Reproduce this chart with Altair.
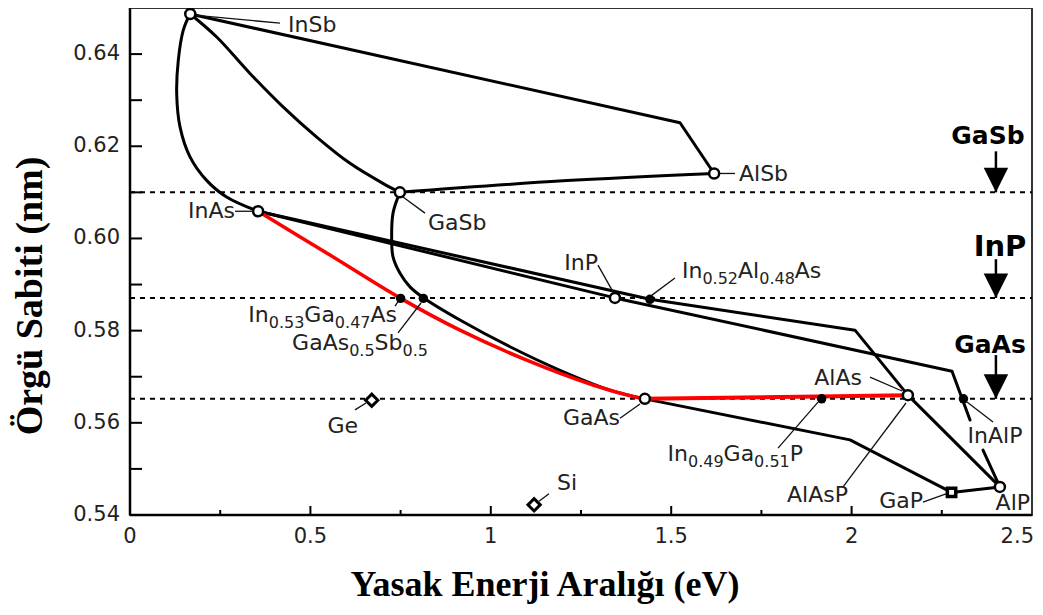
import altair as alt
import pandas as pd

# ---------------- values ----------------
# binary compounds drawn as open circles: band gap (eV), lattice constant (nm)
open_names = ["InSb", "InAs", "GaSb", "AlSb", "InP", "GaAs", "AlAs", "AlP"]
open_eg = [0.167, 0.355, 0.748, 1.619, 1.344, 1.427, 2.156, 2.411]
open_a = [0.6487, 0.6059, 0.6100, 0.6141, 0.5871, 0.5652, 0.5660, 0.5461]

square_names = ["GaP"]
square_eg = [2.277]
square_a = [0.5449]

diamond_names = ["Ge", "Si"]
diamond_eg = [0.670, 1.120]
diamond_a = [0.5649, 0.5422]

alloy_names = ["In0.53Ga0.47As", "GaAs0.5Sb0.5", "In0.52Al0.48As", "In0.49Ga0.51P", "InAlP"]
alloy_eg = [0.750, 0.813, 1.441, 1.917, 2.310]
alloy_a = [0.5870, 0.5870, 0.5868, 0.5652, 0.5652]

substrate_names = ["GaSb", "InP", "GaAs"]
substrate_a = [0.6100, 0.5871, 0.5652]
arrow_top_a = [0.6189, 0.5955, 0.5747]
arrow_eg = [2.40, 2.40, 2.40]

# smooth alloy curves
insb_inas_eg = [0.1663, 0.1477, 0.1339, 0.1294, 0.1386, 0.1663, 0.2123, 0.2677, 0.355]
insb_inas_a = [0.6487, 0.6452, 0.6387, 0.6314, 0.6242, 0.6177, 0.6126, 0.6090, 0.6059]
insb_gasb_eg = [0.167, 0.2403, 0.3326, 0.4249, 0.5175, 0.6098, 0.7021, 0.748]
insb_gasb_a = [0.6487, 0.6437, 0.6358, 0.6285, 0.6220, 0.6163, 0.6119, 0.6100]
gasb_gaas_eg = [0.748, 0.729, 0.7253, 0.729, 0.748, 0.776, 0.8121, 0.9146, 1.0532, 1.1918, 1.3304, 1.427]
gasb_gaas_a = [0.6100, 0.6055, 0.5996, 0.5960, 0.5925, 0.5895, 0.5872, 0.5823, 0.5765, 0.5714, 0.5671, 0.5652]
gasb_alsb_eg = [0.748, 1.2001, 1.619]
gasb_alsb_a = [0.6100, 0.6125, 0.6141]
inas_gaas_eg = [0.355, 0.5543, 0.7503, 0.9146, 1.0995, 1.2833, 1.3941, 1.427]  # red
inas_gaas_a = [0.6059, 0.5964, 0.5870, 0.5801, 0.5736, 0.5682, 0.5657, 0.5652]

# polyline alloy curves
insb_alsb_eg = [0.167, 1.5244, 1.619]
insb_alsb_a = [0.6487, 0.6251, 0.6141]
inas_inp_eg = [0.355, 1.344]
inas_inp_a = [0.6059, 0.5871]
inas_alas_eg = [0.355, 1.441, 2.0094, 2.156]
inas_alas_a = [0.6059, 0.5868, 0.5801, 0.5660]
inp_alp1_eg = [1.344, 2.2783, 2.3282]
inp_alp1_a = [0.5871, 0.5712, 0.5606]
inp_alp2_eg = [2.3642, 2.411]
inp_alp2_a = [0.5541, 0.5461]
gaas_gap_eg = [1.427, 1.9956, 2.277]
gaas_gap_a = [0.5652, 0.5563, 0.5449]
gap_alp_eg = [2.277, 2.411]
gap_alp_a = [0.5449, 0.5461]
alas_alp_eg = [2.156, 2.411]
alas_alp_a = [0.5660, 0.5461]
gaas_alas_eg = [1.427, 2.156]  # red
gaas_alas_a = [0.5652, 0.5660]

# axis ticks and tick labels
x_label_values = [0, 0.5, 1, 1.5, 2, 2.5]
x_label_text = ["0", "0.5", "1", "1.5", "2", "2.5"]
y_label_values = [0.54, 0.56, 0.58, 0.60, 0.62, 0.64]
y_label_text = ["0.54", "0.56", "0.58", "0.60", "0.62", "0.64"]
x_major_ticks = [0.5, 1.0, 1.5, 2.0]
x_minor_ticks = [0.25, 0.75, 1.25, 1.75, 2.25]
y_ticks = [0.55, 0.56, 0.57, 0.58, 0.59, 0.60, 0.61, 0.62, 0.63, 0.64]
x_title = "Yasak Enerji Aralığı (eV)"
y_title = "Örgü Sabiti (nm)"

# ---------------- annotations ----------------
leader_x1 = [0.1849, 1.635, 0.7567, 0.291, 1.2971, 1.5105, 0.7345, 0.7428, 0.6236, 1.3581, 1.1613, 1.796, 2.051, 2.3919, 1.9762, 2.1979]
leader_y1 = [0.6484, 0.6141, 0.6090, 0.6059, 0.5942, 0.5914, 0.5853, 0.5795, 0.5628, 0.5610, 0.5446, 0.5545, 0.5699, 0.5602, 0.5461, 0.5428]
leader_x2 = [0.4157, 1.677, 0.8176, 0.338, 1.3387, 1.4468, 0.7456, 0.8065, 0.6541, 1.4135, 1.1336, 1.9069, 2.1397, 2.3198, 2.1508, 2.2616]
leader_y2 = [0.6467, 0.6141, 0.6055, 0.6059, 0.5884, 0.5877, 0.5866, 0.5860, 0.5643, 0.5641, 0.5430, 0.5645, 0.5669, 0.5645, 0.5643, 0.5446]

# label pieces (text, is_subscript), anchor x, baseline y, alignment
labels = [
    ([("InSb", 0)], 0.4379, 0.6447, "left"),
    ([("AlSb", 0)], 1.6879, 0.6124, "left"),
    ([("GaSb", 0)], 0.8259, 0.6018, "left"),
    ([("InAs", 0)], 0.291, 0.6044, "right"),
    ([("InP", 0)], 1.2971, 0.5931, "right"),
    ([("In", 0), ("0.52", 1), ("Al", 0), ("0.48", 1), ("As", 0)], 1.5299, 0.5914, "left"),
    ([("In", 0), ("0.53", 1), ("Ga", 0), ("0.47", 1), ("As", 0)], 0.74, 0.5819, "right"),
    ([("GaAs", 0), ("0.5", 1), ("Sb", 0), ("0.5", 1)], 0.8259, 0.5757, "right"),
    ([("Ge", 0)], 0.6319, 0.5578, "right"),
    ([("GaAs", 0)], 1.3581, 0.5595, "right"),
    ([("Si", 0)], 1.1835, 0.5454, "left"),
    ([("In", 0), ("0.49", 1), ("Ga", 0), ("0.51", 1), ("P", 0)], 1.8653, 0.5517, "right"),
    ([("AlAs", 0)], 2.0288, 0.5682, "right"),
    ([("InAlP", 0)], 2.3974, 0.5556, "center"),
    ([("AlAsP", 0)], 1.99, 0.5428, "right"),
    ([("GaP", 0)], 2.1979, 0.5415, "right"),
    ([("AlP", 0)], 2.4945, 0.5411, "right"),
]
bold_label_x = [2.378, 2.4113, 2.3836]
bold_label_y = [0.6204, 0.5962, 0.5751]

# ---------------- layout ----------------
W, H = 902, 507
X_DOM = [0, 2.5]
Y_DOM = [0.54, 0.65]
PX_X = W / (X_DOM[1] - X_DOM[0])
FONT = "DejaVu Sans"
MAIN_FS, SUB_FS = 22, 16
EM = {"I": 0.295, "n": 0.634, "G": 0.775, "a": 0.613, "A": 0.684, "l": 0.278,
      "s": 0.521, "S": 0.635, "b": 0.635, "P": 0.603, ".": 0.318, "e": 0.615, "i": 0.278}


def text_width(s, fs):
    return sum(EM.get(c, 0.636) for c in s) * fs


xs = alt.Scale(domain=X_DOM, nice=False, zero=False)
ys = alt.Scale(domain=Y_DOM, nice=False, zero=False)


def X(f="x"):
    return alt.X(f"{f}:Q", scale=xs, axis=None)


def Y(f="y"):
    return alt.Y(f"{f}:Q", scale=ys, axis=None)


def curves_df(curves):
    rows = []
    for name, cx, cy in curves:
        for i, (a, b) in enumerate(zip(cx, cy)):
            rows.append({"curve": name, "i": i, "x": a, "y": b})
    return pd.DataFrame(rows)


black_smooth = curves_df([
    ("InSb-InAs", insb_inas_eg, insb_inas_a),
    ("InSb-GaSb", insb_gasb_eg, insb_gasb_a),
    ("GaSb-GaAs", gasb_gaas_eg, gasb_gaas_a),
    ("GaSb-AlSb", gasb_alsb_eg, gasb_alsb_a),
])
black_poly = curves_df([
    ("InSb-AlSb", insb_alsb_eg, insb_alsb_a),
    ("InAs-InP", inas_inp_eg, inas_inp_a),
    ("InAs-AlAs", inas_alas_eg, inas_alas_a),
    ("InP-AlP-1", inp_alp1_eg, inp_alp1_a),
    ("InP-AlP-2", inp_alp2_eg, inp_alp2_a),
    ("GaAs-GaP", gaas_gap_eg, gaas_gap_a),
    ("GaP-AlP", gap_alp_eg, gap_alp_a),
    ("AlAs-AlP", alas_alp_eg, alas_alp_a),
])
red_smooth = curves_df([("InAs-GaAs", inas_gaas_eg, inas_gaas_a)])
red_poly = curves_df([("GaAs-AlAs", gaas_alas_eg, gaas_alas_a)])

# label pieces table
main_rows, sub_rows = [], []
for parts, ax, by, align in labels:
    widths = [text_width(t, SUB_FS if s else MAIN_FS) for t, s in parts]
    total = sum(widths)
    start = {"left": 0, "center": -total / 2, "right": -total}[align]
    cum = start
    for (t, s), w in zip(parts, widths):
        row = {"t": t, "x": ax + cum / PX_X, "y": by}
        (sub_rows if s else main_rows).append(row)
        cum += w
main_df = pd.DataFrame(main_rows)
sub_df = pd.DataFrame(sub_rows)

# ---------------- layers ----------------
ref_df = pd.DataFrame({"name": substrate_names, "y": substrate_a,
                       "x": [X_DOM[0]] * 3, "x2": [X_DOM[1]] * 3})
ref_lines = alt.Chart(ref_df).mark_rule(color="black", strokeWidth=2, strokeDash=[5, 5]).encode(
    x=X(), x2="x2:Q", y=Y())

# axis lines (left and bottom), ticks pointing inward and tick labels
frame_df = pd.DataFrame({"x": [X_DOM[0]], "x2": [X_DOM[1]], "y": [Y_DOM[0]], "y2": [Y_DOM[1]]})
x_axis_line = alt.Chart(frame_df).mark_rule(color="black", strokeWidth=2.5).encode(x=X(), x2="x2:Q", y=Y())
y_axis_line = alt.Chart(frame_df).mark_rule(color="black", strokeWidth=2.5).encode(x=X(), y=Y(), y2="y2:Q")

ytick = alt.Chart(pd.DataFrame({"y": y_ticks})).mark_rule(color="black", strokeWidth=2).encode(
    y=Y(), x=alt.value(0), x2=alt.value(12))
xtick_major = alt.Chart(pd.DataFrame({"x": x_major_ticks})).mark_rule(color="black", strokeWidth=2).encode(
    x=X(), y=alt.value(H), y2=alt.value(H - 9))
xtick_minor = alt.Chart(pd.DataFrame({"x": x_minor_ticks})).mark_rule(color="black", strokeWidth=2).encode(
    x=X(), y=alt.value(H), y2=alt.value(H - 5))

x_lab_df = pd.DataFrame({"x": x_label_values, "t": x_label_text})
x_labels = alt.Chart(x_lab_df).transform_filter(alt.datum.x < X_DOM[1]).mark_text(
    font=FONT, fontSize=21, align="center", baseline="top", color="#222").encode(
    x=X(), y=alt.value(H + 11), text="t:N")
x_label_last = alt.Chart(x_lab_df).transform_filter(alt.datum.x >= X_DOM[1]).mark_text(
    font=FONT, fontSize=21, align="right", baseline="top", dx=2, color="#222").encode(
    x=X(), y=alt.value(H + 11), text="t:N")
y_labels = alt.Chart(pd.DataFrame({"y": y_label_values, "t": y_label_text})).mark_text(
    font=FONT, fontSize=21, align="right", baseline="middle", color="#222").encode(
    y=Y(), x=alt.value(-10), text="t:N")

x_title_layer = alt.Chart(pd.DataFrame({"t": [x_title]})).mark_text(
    font="Liberation Serif", fontSize=36, fontWeight="bold", align="center", baseline="alphabetic",
    color="black").encode(x=alt.value(415), y=alt.value(H + 81), text="t:N")
y_title_layer = alt.Chart(pd.DataFrame({"t": [y_title]})).mark_text(
    font="Liberation Serif", fontSize=38, fontWeight="bold", align="center", baseline="alphabetic",
    angle=270, color="black").encode(x=alt.value(-88), y=alt.value(288), text="t:N")


def line_layer(df, color, interp, width):
    return alt.Chart(df).mark_line(color=color, strokeWidth=width, interpolate=interp,
                                   strokeJoin="round", strokeCap="round").encode(
        x=X(), y=Y(), detail="curve:N", order="i:Q")


l_black_smooth = line_layer(black_smooth, "black", "catmull-rom", 3)
l_black_poly = line_layer(black_poly, "black", "linear", 3)
l_red_smooth = line_layer(red_smooth, "#ff0000", "catmull-rom", 3.5)
l_red_poly = line_layer(red_poly, "#ff0000", "linear", 4)

leaders = alt.Chart(pd.DataFrame({"x": leader_x1, "y": leader_y1, "x2": leader_x2, "y2": leader_y2})).mark_rule(
    color="#111", strokeWidth=1.3).encode(x=X(), y=Y(), x2="x2:Q", y2="y2:Q")

open_pts = alt.Chart(pd.DataFrame({"name": open_names, "x": open_eg, "y": open_a})).mark_point(
    shape="circle", size=100, filled=True, fill="white", stroke="black", strokeWidth=2.5, opacity=1).encode(x=X(), y=Y())
square_pts = alt.Chart(pd.DataFrame({"name": square_names, "x": square_eg, "y": square_a})).mark_point(
    shape="square", size=70, filled=True, fill="white", stroke="black", strokeWidth=3.5, opacity=1).encode(x=X(), y=Y())
diamond_pts = alt.Chart(pd.DataFrame({"name": diamond_names, "x": diamond_eg, "y": diamond_a})).mark_point(
    shape="diamond", size=150, filled=True, fill="white", stroke="black", strokeWidth=3, opacity=1).encode(x=X(), y=Y())
alloy_pts = alt.Chart(pd.DataFrame({"name": alloy_names, "x": alloy_eg, "y": alloy_a})).mark_circle(
    size=90, color="black", opacity=1).encode(x=X(), y=Y())

main_text = alt.Chart(main_df).mark_text(font=FONT, fontSize=MAIN_FS, align="left", baseline="alphabetic",
                                         color="#222").encode(x=X(), y=Y(), text="t:N")
sub_text = alt.Chart(sub_df).mark_text(font=FONT, fontSize=SUB_FS, align="left", baseline="alphabetic",
                                       dy=6, color="#222").encode(x=X(), y=Y(), text="t:N")

arrow_df = pd.DataFrame({"name": substrate_names, "x": arrow_eg, "y": arrow_top_a, "y2": substrate_a})
arrow_shaft = alt.Chart(arrow_df).mark_rule(color="black", strokeWidth=2.5).encode(x=X(), y=Y(), y2="y2:Q")
arrow_head = alt.Chart(arrow_df).mark_point(shape="M-1,-2L1,-2L0,0Z", size=600, filled=True,
                                            color="black", opacity=1).encode(x=X(), y=Y("y2"))

bold_df = pd.DataFrame({"t": substrate_names, "x": bold_label_x, "y": bold_label_y})
bold_small = alt.Chart(bold_df).transform_filter(alt.datum.t != "InP").mark_text(
    font=FONT, fontSize=25, fontWeight="bold", align="center", baseline="alphabetic", color="black").encode(
    x=X(), y=Y(), text="t:N")
bold_big = alt.Chart(bold_df).transform_filter(alt.datum.t == "InP").mark_text(
    font=FONT, fontSize=29, fontWeight="bold", align="center", baseline="alphabetic", color="black").encode(
    x=X(), y=Y(), text="t:N")

chart = alt.layer(
    ref_lines, ytick, xtick_major, xtick_minor, x_axis_line, y_axis_line,
    x_labels, x_label_last, y_labels, x_title_layer, y_title_layer,
    l_black_smooth, l_black_poly, l_red_smooth, l_red_poly,
    leaders, open_pts, square_pts, diamond_pts, alloy_pts,
    main_text, sub_text, arrow_shaft, arrow_head, bold_small, bold_big,
).properties(
    width=W, height=H,
    padding={"left": 122, "top": 0, "right": 3, "bottom": 92},
    autosize=alt.AutoSizeParams(type="none"),
    background="white",
).configure_view(stroke="#333", strokeWidth=2)

chart.save("out.html", embed_options={"renderer": "svg", "actions": False})
